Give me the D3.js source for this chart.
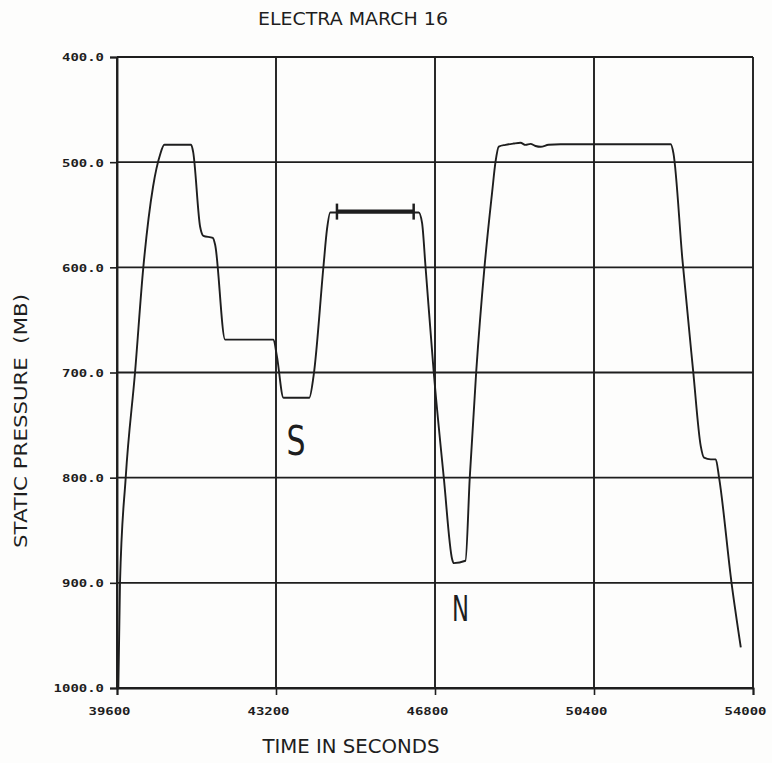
<!DOCTYPE html>
<html>
<head>
<meta charset="utf-8">
<script src="https://cdn.jsdelivr.net/npm/d3@7"></script>
<style>
  html, body { margin: 0; padding: 0; background: #fdfdfc; }
  svg { display: block; }
  text { fill: #1e1e1e; }
</style>
</head>
<body>
<svg id="chart" width="772" height="763"></svg>
<script>
// Flight track of static pressure against time of day
const timeSec = [
  39630, 39668, 39797, 40008, 40196, 40416, 40575, 40672, 41278,
  41323, 41482, 41556, 41770, 41822, 42048, 43143, 43220, 43370, 43953,
  44050, 44277, 44354, 44429, 46431, 46508, 46583, 46772, 46999, 47188,
  47224, 47489, 47587, 47732, 47920, 48095, 48169, 48244, 48396, 48577,
  48736, 48850, 48963, 49076, 49190, 49371, 49643, 52137, 52198, 52402,
  52642, 52817, 52891, 53043, 53157, 53232, 53513, 53724
];
const pressureMb = [
  1001, 900, 800, 700, 600, 523.4, 493, 483.5, 483.5,
  490, 561.4, 570, 572, 578.5, 668.7, 668.7, 684.5, 724, 724,
  703.5, 598, 564, 547.8, 547.8, 558, 598, 700, 800, 877.5,
  881.3, 879, 800, 700, 600, 528, 500, 485.2, 483.5, 482.3,
  481.6, 483.6, 482.6, 484.6, 485.4, 483.5, 483, 483, 491.4, 592.7,
  697.2, 770, 781, 782.6, 782.6, 800, 899.7, 961.4
];

// Marked level leg (start / end time, pressure level)
const legTimes = [44580, 46317];
const legLevel = [547];

// Hand annotations: letter, time, pressure
const noteText = ["S", "N"];
const noteTime = [43654, 47376];
const notePressure = [778, 936];

// Axis ticks
const xTicks = [39600, 43200, 46800, 50400, 54000];
const yTicks = [400, 500, 600, 700, 800, 900, 1000];

const titleText = "ELECTRA MARCH 16";
const xTitle = "TIME IN SECONDS";
const yTitle = "STATIC PRESSURE  (MB)";

const svg = d3.select("#chart");
const ink = "#1e1e1e";

const x = d3.scaleLinear().domain([39600, 54000]).range([117, 753]);
const y = d3.scaleLinear().domain([400, 1000]).range([57, 688]);

// grid
const grid = svg.append("g").attr("stroke", ink).attr("stroke-width", 1.9);
grid.selectAll("line.h").data(yTicks).join("line")
  .attr("class", "h")
  .attr("x1", x(39600)).attr("x2", x(54000))
  .attr("y1", d => y(d)).attr("y2", d => y(d));
grid.selectAll("line.v").data(xTicks).join("line")
  .attr("class", "v")
  .attr("y1", y(400)).attr("y2", y(1000))
  .attr("x1", d => x(d)).attr("x2", d => x(d));

// axes
const monoFont = "'DejaVu Sans Mono', monospace";
const yAxis = svg.append("g")
  .attr("transform", `translate(${x(39600)},0)`)
  .call(d3.axisLeft(y).tickValues(yTicks).tickSize(7).tickPadding(6)
    .tickFormat(d => d.toFixed(1)));
const xAxis = svg.append("g")
  .attr("transform", `translate(0,${y(1000)})`)
  .call(d3.axisBottom(x).tickValues(xTicks).tickSize(7).tickFormat(d => String(d)));

[yAxis, xAxis].forEach(g => {
  g.select(".domain").attr("stroke", ink).attr("stroke-width", 1.9);
  g.selectAll(".tick line").attr("stroke", ink).attr("stroke-width", 1.6);
  g.selectAll(".tick text")
    .attr("fill", ink)
    .style("font-family", monoFont)
    .style("font-size", "11px")
    .style("font-weight", "bold")
    .attr("lengthAdjust", "spacingAndGlyphs");
});
yAxis.selectAll(".tick text")
  .attr("textLength", d => d.toFixed(1).length * 8.4)
  .attr("dy", "0.36em");
xAxis.selectAll(".tick text")
  .attr("textLength", d => String(d).length * 8.4)
  .attr("x", -8).attr("y", 19);

// pressure trace
const line = d3.line()
  .x((d, i) => x(timeSec[i]))
  .y(d => y(d))
  .curve(d3.curveMonotoneX);
svg.append("path")
  .datum(pressureMb)
  .attr("fill", "none")
  .attr("stroke", ink)
  .attr("stroke-width", 1.9)
  .attr("stroke-linejoin", "round")
  .attr("d", line);

// marked level leg with end caps
const leg = svg.append("g").attr("stroke", ink);
leg.append("line")
  .attr("x1", x(legTimes[0])).attr("x2", x(legTimes[1]))
  .attr("y1", y(legLevel[0])).attr("y2", y(legLevel[0]))
  .attr("stroke-width", 4);
leg.selectAll("line.cap").data(legTimes).join("line")
  .attr("class", "cap")
  .attr("x1", d => x(d)).attr("x2", d => x(d))
  .attr("y1", y(legLevel[0]) - 8).attr("y2", y(legLevel[0]) + 8)
  .attr("stroke-width", 2.5);

// annotations
svg.selectAll("text.note").data(noteText).join("text")
  .attr("class", "note")
  .attr("x", (d, i) => x(noteTime[i]))
  .attr("y", (d, i) => y(notePressure[i]))
  .attr("text-anchor", "middle")
  .style("font-family", "'DejaVu Sans', sans-serif")
  .style("font-size", (d, i) => i === 0 ? "41px" : "36px")
  .attr("textLength", (d, i) => i === 0 ? 19 : 17)
  .attr("lengthAdjust", "spacingAndGlyphs")
  .text(d => d);

// titles
const sans = "'DejaVu Sans', sans-serif";
svg.append("text")
  .attr("x", 353).attr("y", 25)
  .attr("text-anchor", "middle")
  .style("font-family", sans).style("font-size", "17px")
  .attr("textLength", 190).attr("lengthAdjust", "spacingAndGlyphs")
  .text(titleText);
svg.append("text")
  .attr("x", 351).attr("y", 753)
  .attr("text-anchor", "middle")
  .style("font-family", sans).style("font-size", "19px")
  .attr("textLength", 177).attr("lengthAdjust", "spacingAndGlyphs")
  .text(xTitle);
svg.append("text")
  .attr("transform", "translate(27,421) rotate(-90)")
  .attr("text-anchor", "middle")
  .style("font-family", sans).style("font-size", "18px")
  .attr("textLength", 254).attr("lengthAdjust", "spacingAndGlyphs")
  .style("white-space", "pre")
  .text(yTitle);
</script>
</body>
</html>
